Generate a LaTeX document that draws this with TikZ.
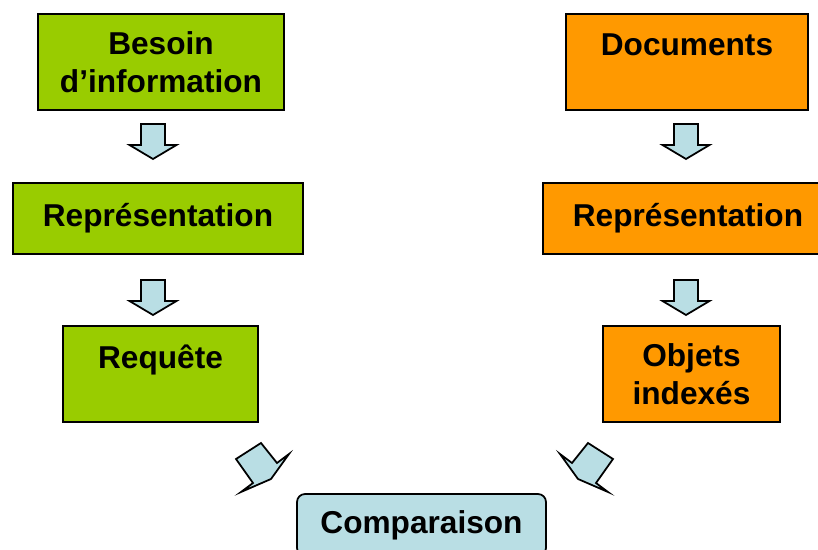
\documentclass[tikz,border=0pt]{standalone}
\usepackage{fontspec}
\setmainfont{Liberation Sans}
\usetikzlibrary{calc}
\definecolor{mygreen}{RGB}{153,204,0}
\definecolor{myorange}{RGB}{255,153,0}
\definecolor{myblue}{RGB}{185,222,228}

\begin{document}
\begin{tikzpicture}[x=0.02cm, y=-0.02cm]
    % styles
    \tikzset{
        box/.style={draw=black, line width=1pt, inner sep=0pt, align=center,
            font=\bfseries\fontsize{18}{21.5}\selectfont},
        gbox/.style={box, fill=mygreen},
        obox/.style={box, fill=myorange},
        cbox/.style={box, fill=myblue, rounded corners=0.16cm},
        barrow/.style={draw=black, line width=1pt, fill=myblue, line join=miter}
    }
    \useasboundingbox (0,0) rectangle (818,550);

    % left column
    \node[gbox, minimum width=4.92cm, minimum height=1.92cm] (besoin) at (161,62) {Besoin\\d’information};
    \node[gbox, minimum width=5.8cm, minimum height=1.42cm] (repL) at (158,218.5) {Représentation};
    \node[gbox, minimum width=3.9cm, minimum height=1.92cm] (requete) at (160.5,374) {Requête\\[-1.6pt]\mbox{}};

    % right column
    \node[obox, minimum width=4.84cm, minimum height=1.92cm] (docs) at (687,62) {Documents\\[-1.6pt]\mbox{}};
    \node[obox, minimum width=5.8cm, minimum height=1.42cm] (repR) at (688,218.5) {Représentation};
    \node[obox, minimum width=3.54cm, minimum height=1.92cm] (objets) at (691.5,374) {Objets\\indexés};

    % bottom
    \node[cbox, minimum width=4.98cm, minimum height=1.24cm] (comp) at (421.5,525) {Comparaison};

    % block arrows
    \foreach \x/\y in {153/141, 686/141, 153/297, 686/297}
        \draw[barrow] (\x-12,\y-17) -- (\x+12,\y-17) -- (\x+12,\y+4) -- (\x+23.5,\y+4)
            -- (\x,\y+18) -- (\x-23.5,\y+4) -- (\x-12,\y+4) -- cycle;
    \draw[barrow] (236,459) -- (261,443) -- (277,463) -- (289,454) -- (271,479)
        -- (241,492) -- (253,483) -- cycle;
    \draw[barrow] (613,459) -- (588,443) -- (572,463) -- (560,454) -- (578,479)
        -- (608,492) -- (596,483) -- cycle;
\end{tikzpicture}
\end{document}
